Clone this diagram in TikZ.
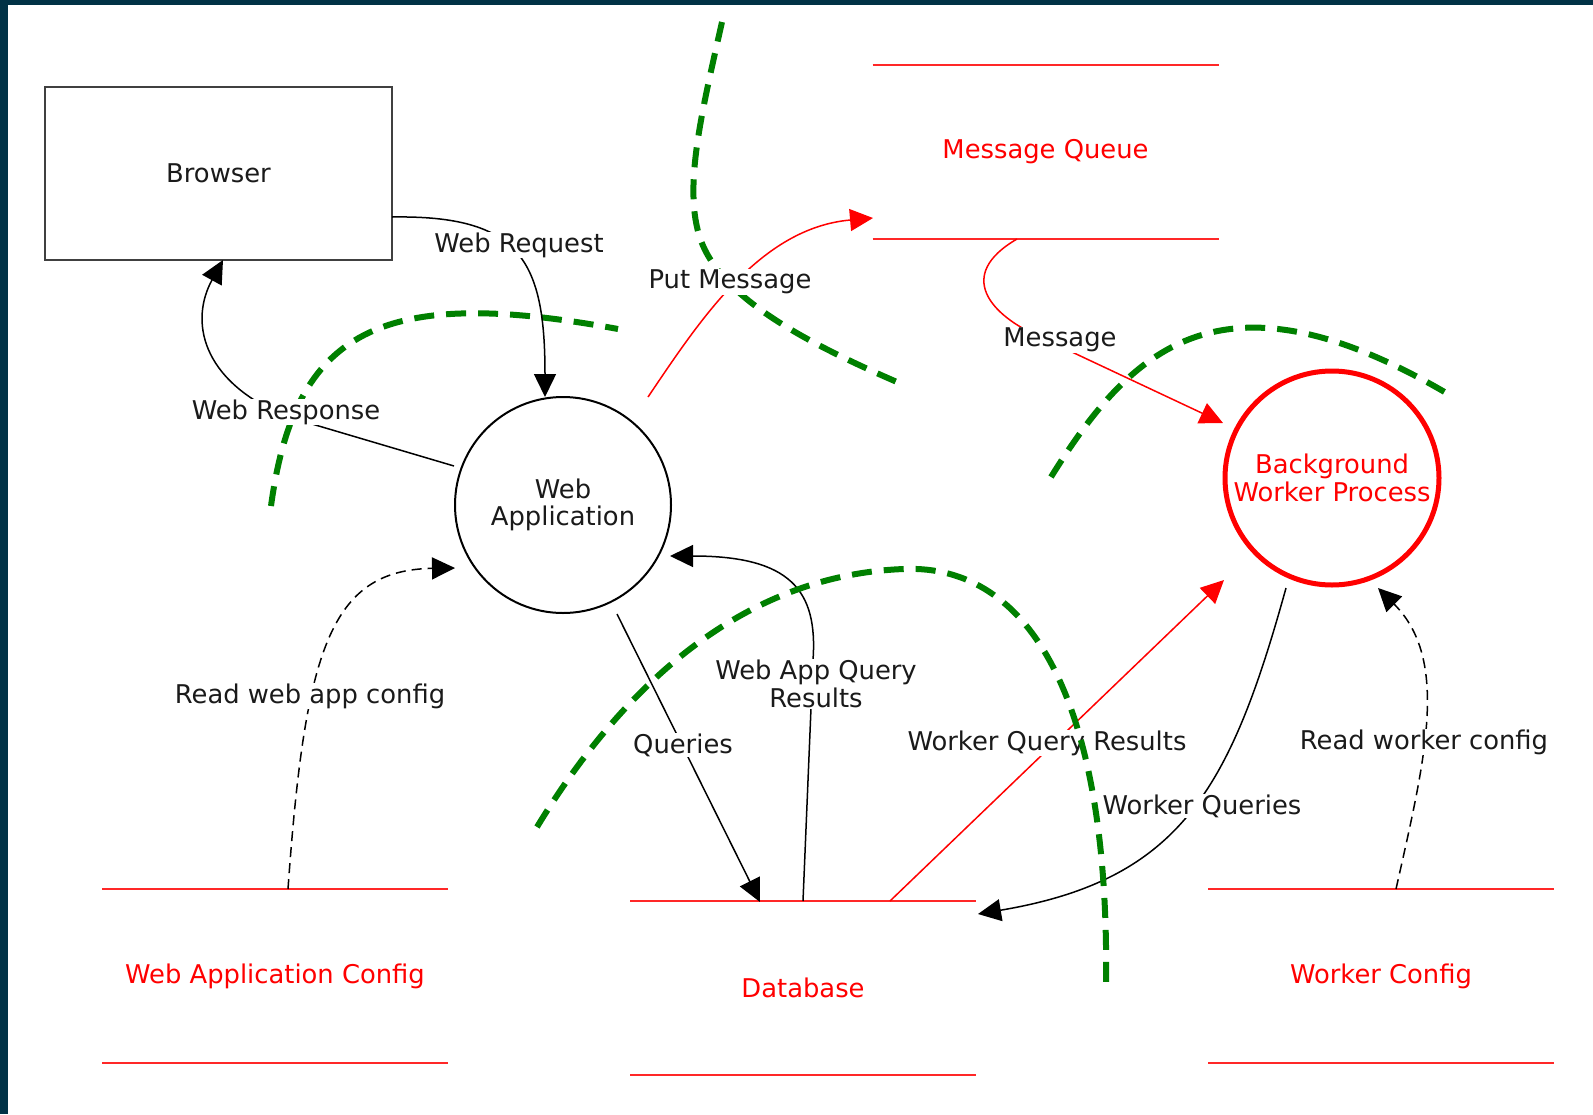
\documentclass[tikz,border=0pt]{standalone}
\usepackage{fontspec}
\setmainfont{DejaVu Sans}
\usetikzlibrary{arrows.meta,calc}
\definecolor{navy}{RGB}{1,50,70}
\definecolor{txt}{RGB}{26,26,26}
\definecolor{storered}{RGB}{255,40,40}
\definecolor{bgreen}{RGB}{0,128,0}
\begin{document}
\begin{tikzpicture}[x=1pt,y=-1pt,
  every node/.style={font=\fontsize{25.8}{27.5}\selectfont, text=txt},
  entity/.style={draw=black!75, line width=2pt, minimum width=347pt, minimum height=173pt, inner sep=0pt, outer sep=0pt},
  proc/.style={circle, draw=black, line width=2pt, minimum size=216pt, inner sep=0pt, outer sep=0pt, align=center},
  store/.style={minimum width=346pt, minimum height=174pt, inner sep=0pt, outer sep=0pt, text=red},
  storeline/.style={draw=storered, line width=2pt},
  flow/.style={draw=black, line width=1.5pt, -{Triangle[length=23pt,width=22pt]}},
  rflow/.style={draw=red, line width=1.5pt, -{Triangle[length=23pt,width=22pt]}},
  dflow/.style={flow, dash pattern=on 10pt off 6pt},
  lbl/.style={fill=white, inner sep=1pt, align=center},
  boundary/.style={draw=bgreen, line width=6pt, dash pattern=on 20pt off 12pt},
]
\fill[navy] (0,0) rectangle (1593,1114);
\fill[white] (8,5) rectangle (1593,1114);
\useasboundingbox (0,0) rectangle (1593,1114);

% nodes
\node[entity] (browser) at (218.5,173.5) {Browser};
\node[proc] (webapp) at (563,505) {Web\\Application};
\node[proc, draw=red, line width=5pt, minimum size=214pt, text=red] (bwp) at (1332,478) {Background\\Worker Process};
\node[store] (mq) at (1045.5,152) {Message Queue};
\node[store] (db) at (803,988) {Database};
\node[store] (wac) at (275,976) {Web Application Config};
\node[store] (wc) at (1381,976) {Worker Config};

\foreach \s in {mq,db,wac,wc}{
  \draw[storeline] (\s.north west) -- (\s.north east) (\s.south west) -- (\s.south east);
}

% trust boundaries below labels
\draw[boundary] (271,506) .. controls (295,330) and (380,285) .. (618,329);
\draw[boundary] (722,22) .. controls (700,120) and (680,200) .. (705,250) .. controls (730,300) and (800,340) .. (897,382);

% flows
\draw[flow] ($(browser.east)+(0,43.5)$) .. controls (520,215) and (545,260) .. ($(webapp.center)+(-18,-108)$);
\draw[flow] ($(webapp.center)+(-109,-39)$) -- (285,416) .. controls (200,380) and (190,320) .. ($(browser.south)+(4.5,0)$);
\draw[rflow] ($(webapp.center)+(85,-108)$) .. controls (700,320) and (760,228) .. ($(mq.center)+(-172.5,66)$);
\draw[rflow] ($(mq.center)+(-28.5,87)$) .. controls (955,275) and (990,315) .. (1040,337) -- ($(bwp.center)+(-109,-55)$);
\draw[dflow] ($(wac.center)+(13,-87)$) .. controls (305,650) and (330,570) .. ($(webapp.center)+(-108,63)$);
\draw[flow] ($(webapp.center)+(54,109)$) -- ($(db.center)+(-43,-86)$);
\draw[flow] ($(db.center)+(0,-87)$) -- (813,660) .. controls (818,590) and (790,556) .. ($(webapp.center)+(107,51)$);
\draw[rflow] ($(db.center)+(87,-87)$) -- ($(bwp.center)+(-108,102)$);
\draw[flow] ($(bwp.center)+(-46,110)$) .. controls (1230,790) and (1180,880) .. ($(db.center)+(175,-74)$);
\draw[dflow] ($(wc.center)+(15,-87)$) .. controls (1425,760) and (1450,660) .. ($(bwp.center)+(46,110)$);

% labels
\node[lbl] (lwreq) at (519,245) {Web Request};
\node[lbl] (lwresp) at (286,412) {Web Response};
\node[lbl] (lput) at (730,282) {Put Message};
\node[lbl] (lmsg) at (1060,340) {Message};
\node[lbl] (lrwac) at (310,696) {Read web app config};
\node[lbl] (lq) at (683,745) {Queries};
\node[lbl] (lwaqr) at (816,684) {Web App Query\\Results};
\node[lbl] (lwqr) at (1047,743) {Worker Query Results};
\node[lbl] (lwq) at (1202,806) {Worker Queries};
\node[lbl] (lrwc) at (1424,742) {Read worker config};

% trust boundaries above labels
\draw[boundary] (1051,477) .. controls (1130,350) and (1220,260) .. (1448,394);
\draw[boundary] (537,827) .. controls (620,690) and (740,575) .. (904,569) .. controls (1030,564) and (1110,700) .. (1106,986);
\end{tikzpicture}
\end{document}
